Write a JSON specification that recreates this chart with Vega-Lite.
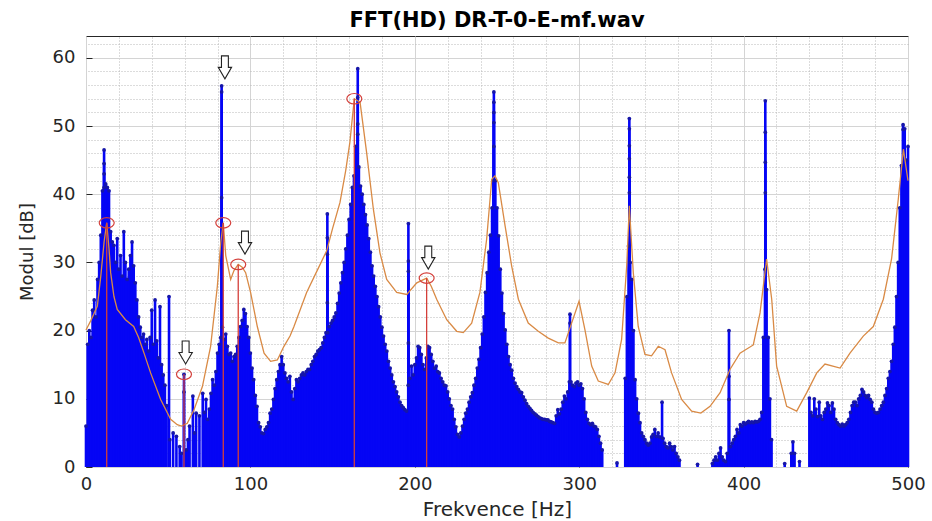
{
  "$schema": "https://vega.github.io/schema/vega-lite/v6.json",
  "width": 822,
  "height": 431,
  "autosize": {"type": "none"},
  "padding": {"left": 86, "top": 36, "right": 24, "bottom": 54},
  "background": "white",
  "title": {"text": "FFT(HD) DR-T-0-E-mf.wav", "font": "DejaVu Sans", "fontSize": 21, "fontWeight": "bold", "color": "#000000", "offset": 5},
  "config": {"view": {"stroke": "#262626", "strokeWidth": 1}},
  "datasets": {
    "spec": [
      {"f":0,"m":6},{"f":1,"m":18},{"f":2,"m":20},{"f":3,"m":19},{"f":4,"m":23},{"f":5,"m":24.5},{"f":6,"m":22},{"f":7,"m":27.5},{"f":8,"m":30},{"f":9,"m":34},
      {"f":10,"m":40.5},{"f":11,"m":46.5},{"f":11,"m":44.5},{"f":11,"m":43},{"f":11,"m":41},{"f":12,"m":41.5},{"f":13,"m":41},{"f":14,"m":40.5},{"f":15,"m":34.5},{"f":16,"m":33},{"f":17,"m":32.5},{"f":18,"m":30},{"f":19,"m":33.5},
      {"f":20,"m":29},{"f":21,"m":31},{"f":22,"m":28},{"f":23,"m":34.5},{"f":24,"m":30},{"f":25,"m":27.5},{"f":26,"m":29},{"f":27,"m":31},{"f":28,"m":33},{"f":29,"m":29.5},
      {"f":30,"m":27},{"f":31,"m":24.5},{"f":32,"m":22},{"f":33,"m":20.5},{"f":34,"m":19},{"f":35,"m":19.5},{"f":36,"m":18},{"f":37,"m":18.7},{"f":38,"m":17},{"f":39,"m":19},
      {"f":40,"m":23},{"f":41,"m":18},{"f":42,"m":24.5},{"f":43,"m":18.5},{"f":44,"m":16},{"f":45,"m":23.5},{"f":46,"m":15},{"f":47,"m":13.5},{"f":48,"m":12},{"f":49,"m":9},
      {"f":50.5,"m":25},{"f":51,"m":4},{"f":53,"m":5},{"f":55,"m":4.5},{"f":57,"m":3},{"f":58,"m":2},{"f":59.6,"m":13.6},{"f":59.6,"m":11},{"f":61,"m":2.5},{"f":62,"m":4},{"f":63,"m":6},
      {"f":65,"m":10.4},{"f":66,"m":5},{"f":67,"m":7.9},{"f":69,"m":7.5},{"f":71,"m":10.8},{"f":72,"m":8},{"f":73,"m":9.9},{"f":74,"m":7},{"f":75,"m":8.5},{"f":76,"m":10.8},{"f":77,"m":12.8},{"f":78,"m":12},{"f":79,"m":14},
      {"f":80,"m":16.7},{"f":81,"m":18},{"f":82,"m":19},{"f":82.5,"m":55.9},{"f":82.5,"m":55},{"f":82.5,"m":39.5},{"f":83,"m":20.5},{"f":84,"m":18.7},{"f":85,"m":19.5},{"f":86,"m":17.7},{"f":87,"m":16.5},{"f":88,"m":16.7},{"f":89,"m":15.5},
      {"f":90,"m":16.2},{"f":91,"m":16.5},{"f":92,"m":17.7},{"f":93,"m":19},{"f":94,"m":20.6},{"f":95,"m":21.5},{"f":96,"m":23.1},{"f":97,"m":22.5},{"f":98,"m":20.6},{"f":99,"m":19},
      {"f":100,"m":16.7},{"f":101,"m":14.5},{"f":102,"m":12.8},{"f":103,"m":10.5},{"f":104,"m":8.9},{"f":105,"m":6.5},{"f":106,"m":5.9},{"f":107,"m":5},{"f":108,"m":4.9},{"f":109,"m":5.5},
      {"f":110,"m":5.9},{"f":111,"m":6.5},{"f":112,"m":7.9},{"f":113,"m":8.5},{"f":114,"m":9.9},{"f":115,"m":11.5},{"f":116,"m":12.8},{"f":117,"m":14},{"f":118,"m":15},{"f":119,"m":16.2},
      {"f":120,"m":15},{"f":121,"m":13.8},{"f":122,"m":13},{"f":123,"m":12.5},{"f":124,"m":13.3},{"f":125,"m":11},{"f":126,"m":9.9},{"f":127,"m":11.5},{"f":128,"m":12.8},{"f":129,"m":12.5},
      {"f":130,"m":13},{"f":131,"m":13.5},{"f":132,"m":13.8},{"f":133,"m":13.5},{"f":134,"m":14},{"f":135,"m":14.3},{"f":136,"m":14.3},{"f":137,"m":15},{"f":138,"m":15.5},{"f":139,"m":16.2},
      {"f":140,"m":16.5},{"f":141,"m":17},{"f":142,"m":17.2},{"f":143,"m":17.5},{"f":144,"m":18.2},{"f":145,"m":19},{"f":146,"m":19.7},{"f":146.8,"m":37.1},{"f":146.8,"m":33.6},{"f":146.8,"m":31.2},{"f":146.8,"m":24.1},{"f":147,"m":19.7},{"f":148,"m":20.6},{"f":149,"m":21.1},
      {"f":150,"m":21.5},{"f":151,"m":22},{"f":152,"m":22.6},{"f":153,"m":24},{"f":154,"m":25.5},{"f":155,"m":27},{"f":156,"m":28.5},{"f":157,"m":30},{"f":158,"m":32},{"f":159,"m":34},
      {"f":160,"m":36.3},{"f":161,"m":38.5},{"f":162,"m":41},{"f":163,"m":42.7},{"f":164,"m":47},{"f":165.3,"m":58.4},{"f":165.3,"m":54.2},{"f":165.3,"m":50.3},{"f":165.3,"m":48.8},{"f":166,"m":44},{"f":167,"m":41.2},{"f":168,"m":40},{"f":169,"m":38.5},
      {"f":170,"m":37},{"f":171,"m":35.5},{"f":172,"m":33.5},{"f":173,"m":31.5},{"f":174,"m":29.5},{"f":175,"m":28},{"f":176,"m":26.5},{"f":177,"m":25},{"f":178,"m":23.5},{"f":179,"m":22},
      {"f":180,"m":20.5},{"f":181,"m":19.2},{"f":182,"m":18},{"f":183,"m":17},{"f":184,"m":15.5},{"f":185,"m":14.5},{"f":186,"m":13.5},{"f":187,"m":12.5},{"f":188,"m":11.8},{"f":189,"m":11},
      {"f":190,"m":10.3},{"f":191,"m":9.5},{"f":192,"m":9},{"f":193,"m":8.7},{"f":194,"m":8.4},{"f":195,"m":8.2},{"f":196,"m":12},{"f":196.1,"m":35.7},{"f":196.1,"m":30.2},{"f":196.1,"m":28.7},{"f":196.1,"m":18.2},{"f":197,"m":13},{"f":198,"m":14.8},{"f":199,"m":13.5},
      {"f":200,"m":15},{"f":201,"m":16},{"f":202,"m":17.7},{"f":203,"m":17.5},{"f":204,"m":16.5},{"f":205,"m":15},{"f":206,"m":14.3},{"f":207,"m":16},{"f":208,"m":17.7},{"f":209,"m":17.5},
      {"f":210,"m":16.5},{"f":211,"m":15.5},{"f":212,"m":14.5},{"f":213,"m":14.8},{"f":214,"m":14},{"f":215,"m":13.8},{"f":216,"m":13},{"f":217,"m":12.5},{"f":218,"m":12},{"f":219,"m":11.9},
      {"f":220,"m":11},{"f":221,"m":10},{"f":222,"m":9},{"f":223,"m":8.5},{"f":224,"m":7},{"f":225,"m":5.9},{"f":226,"m":4.8},{"f":227,"m":4.4},{"f":228,"m":5},{"f":229,"m":6},
      {"f":230,"m":7},{"f":231,"m":7.9},{"f":232,"m":8.5},{"f":233,"m":9.5},{"f":234,"m":10.3},{"f":235,"m":10.9},{"f":236,"m":12},{"f":237,"m":13},{"f":238,"m":14.5},{"f":239,"m":15.8},
      {"f":240,"m":17.5},{"f":241,"m":19.5},{"f":242,"m":22},{"f":243,"m":25.6},{"f":244,"m":28.5},{"f":245,"m":31.5},{"f":246,"m":34},{"f":247,"m":38},{"f":248,"m":42},{"f":248.1,"m":55},{"f":248.1,"m":53.5},{"f":248.1,"m":52},{"f":248.1,"m":50.5},{"f":248.1,"m":47},{"f":249,"m":42},
      {"f":250,"m":38},{"f":251,"m":33.9},{"f":252,"m":29},{"f":253,"m":25.5},{"f":254,"m":22.5},{"f":255,"m":20.1},{"f":256,"m":18},{"f":257,"m":16.2},{"f":258,"m":15},{"f":259,"m":14.2},
      {"f":260,"m":13},{"f":261,"m":12.3},{"f":262,"m":11.8},{"f":263,"m":11.4},{"f":264,"m":11},{"f":265,"m":10.9},{"f":266,"m":10.3},{"f":267,"m":9.8},{"f":268,"m":9.3},{"f":269,"m":8.9},
      {"f":270,"m":8.6},{"f":271,"m":8.3},{"f":272,"m":8},{"f":273,"m":7.8},{"f":274,"m":7.6},{"f":275,"m":7.4},{"f":276,"m":7.2},{"f":277,"m":7.1},{"f":278,"m":7},{"f":279,"m":7},
      {"f":280,"m":6.9},{"f":281,"m":6.9},{"f":282,"m":6.7},{"f":283,"m":6.6},{"f":284,"m":6.5},{"f":285,"m":6.4},{"f":286,"m":7.5},{"f":287,"m":8.4},{"f":288,"m":7.8},{"f":289,"m":8.5},
      {"f":290,"m":9.5},{"f":291,"m":10.4},{"f":292,"m":10},{"f":293,"m":11},{"f":294,"m":12.5},{"f":294.4,"m":22.4},{"f":294.4,"m":21.1},{"f":295,"m":12.5},{"f":296,"m":12},{"f":297,"m":11.8},{"f":298,"m":12.3},{"f":299,"m":12.5},
      {"f":300,"m":12},{"f":301,"m":12.2},{"f":302,"m":11.5},{"f":303,"m":10},{"f":304,"m":8},{"f":305,"m":7},{"f":306,"m":6.4},{"f":307,"m":6.2},{"f":308,"m":6.4},{"f":309,"m":6},
      {"f":310,"m":5.9},{"f":311,"m":5.5},{"f":312,"m":4.5},{"f":313,"m":3.5},{"f":314,"m":2.5},{"f":323,"m":0.6},
      {"f":328,"m":13},{"f":329,"m":25},{"f":330,"m":32.4},{"f":330.5,"m":51.1},{"f":330.5,"m":49.6},{"f":330.5,"m":47.1},{"f":330.5,"m":45.2},{"f":330.5,"m":42.5},{"f":330.5,"m":40.2},{"f":331,"m":30},{"f":332,"m":27.5},{"f":333,"m":20},{"f":334,"m":12.8},{"f":335,"m":10},{"f":336,"m":7.9},{"f":337,"m":6.5},{"f":338,"m":5},{"f":339,"m":4.5},
      {"f":340,"m":4},{"f":341,"m":3.5},{"f":342,"m":3.2},{"f":343,"m":3.5},{"f":344,"m":4.4},{"f":345,"m":4.8},{"f":346,"m":5.5},{"f":347,"m":4.5},{"f":348,"m":5},{"f":349,"m":4.4},
      {"f":350.4,"m":9.5},{"f":351,"m":4.2},{"f":352,"m":3.5},{"f":353,"m":3},{"f":354,"m":2.8},{"f":355,"m":3.5},{"f":356,"m":3},{"f":357,"m":2.5},{"f":358,"m":3},{"f":359,"m":2},
      {"f":360,"m":1.5},{"f":361,"m":1},{"f":372,"m":0.4},
      {"f":381,"m":0.5},{"f":382,"m":1},{"f":383,"m":1.5},{"f":384,"m":1},{"f":385,"m":2},{"f":386,"m":2.8},{"f":387,"m":1.5},{"f":388,"m":1},{"f":389,"m":0.8},
      {"f":390,"m":2},{"f":391.1,"m":20},{"f":391.1,"m":13.3},{"f":391.1,"m":9.9},{"f":392,"m":3},{"f":393,"m":3.5},{"f":394,"m":4},{"f":395,"m":4.5},{"f":396,"m":5.5},{"f":397,"m":5},{"f":398,"m":6.2},{"f":399,"m":6},
      {"f":400,"m":6.5},{"f":401,"m":6.3},{"f":402,"m":6.5},{"f":403,"m":6.7},{"f":404,"m":6.5},{"f":405,"m":6.6},{"f":406,"m":6.5},{"f":407,"m":6.7},{"f":408,"m":6.6},{"f":409,"m":6.7},
      {"f":410,"m":7},{"f":411,"m":8},{"f":412,"m":19},{"f":413,"m":29},{"f":413.2,"m":53.7},{"f":413.2,"m":49.1},{"f":413.2,"m":44.7},{"f":413.2,"m":40.2},{"f":414,"m":26},{"f":415,"m":19},{"f":416,"m":10},{"f":417,"m":4},
      {"f":425,"m":0.5},{"f":429,"m":2},{"f":430,"m":3.7},{"f":431,"m":2},{"f":434,"m":0.8},
      {"f":440,"m":10.1},{"f":441,"m":8},{"f":442,"m":7.5},{"f":443,"m":10},{"f":444,"m":8.5},{"f":445,"m":7.4},{"f":446,"m":9.5},{"f":447,"m":7.5},{"f":448,"m":7},{"f":449,"m":8},
      {"f":450,"m":8.5},{"f":451,"m":9.4},{"f":452,"m":9},{"f":453,"m":8},{"f":454,"m":9.4},{"f":455,"m":8.5},{"f":456,"m":7},{"f":457,"m":6.5},{"f":458,"m":6.2},{"f":459,"m":6},
      {"f":460,"m":6.3},{"f":461,"m":6},{"f":462,"m":6.2},{"f":463,"m":6.5},{"f":464,"m":7},{"f":465,"m":8},{"f":466,"m":9},{"f":467,"m":9.5},{"f":468,"m":9.5},{"f":469,"m":9},
      {"f":470,"m":10},{"f":471,"m":10.5},{"f":472,"m":11.4},{"f":473,"m":11},{"f":474,"m":10.5},{"f":475,"m":10.2},{"f":476,"m":10.5},{"f":477,"m":9.9},{"f":478,"m":9.5},{"f":479,"m":8.5},
      {"f":480,"m":8},{"f":481,"m":7.9},{"f":482,"m":8},{"f":483,"m":8.5},{"f":484,"m":9},{"f":485,"m":9.5},{"f":486,"m":10.5},{"f":487,"m":11.5},{"f":488,"m":13},{"f":489,"m":14},
      {"f":490,"m":15.5},{"f":491,"m":18},{"f":492,"m":20.5},{"f":493,"m":25},{"f":494,"m":30},{"f":495,"m":38},{"f":496,"m":44.2},{"f":497,"m":50.2},{"f":497,"m":49.5},{"f":498,"m":49.6},{"f":499,"m":45},{"f":500,"m":47}
    ],
    "env": [
      {"f":0,"m":20.1},{"f":3,"m":21.5},{"f":6.9,"m":23.6},{"f":9,"m":28},{"f":11,"m":33},{"f":12.6,"m":35.8},{"f":14,"m":32},{"f":15,"m":28.5},{"f":17,"m":25},{"f":19,"m":23.1},
      {"f":24,"m":21.6},{"f":29,"m":20.6},{"f":32,"m":19},{"f":35.3,"m":16.7},{"f":39.3,"m":13.8},{"f":45.4,"m":9.9},{"f":51.5,"m":7},{"f":55.5,"m":6.2},{"f":58,"m":6},{"f":61.6,"m":6.4},
      {"f":65.7,"m":8.4},{"f":70.8,"m":11.8},{"f":75.8,"m":17.7},{"f":79.9,"m":26.5},{"f":82,"m":33},{"f":83.5,"m":35.8},{"f":85,"m":31},{"f":88,"m":27.5},{"f":90,"m":28.8},{"f":92.6,"m":29.7},
      {"f":95,"m":29.3},{"f":97.1,"m":28.5},{"f":100.2,"m":25.5},{"f":104.2,"m":20.6},{"f":108.3,"m":16.7},{"f":112.3,"m":15.5},{"f":116.4,"m":15.7},{"f":120.4,"m":17.7},{"f":124.1,"m":19.2},{"f":126.5,"m":20.6},
      {"f":134.2,"m":25.6},{"f":140,"m":28.5},{"f":146.4,"m":31.7},{"f":150,"m":35},{"f":154.5,"m":38.8},{"f":158,"m":43.5},{"f":160.5,"m":47.6},{"f":163.2,"m":54},{"f":166.7,"m":53.5},{"f":170.7,"m":46.1},
      {"f":174.8,"m":37.8},{"f":178.8,"m":31.4},{"f":182.9,"m":27.5},{"f":189,"m":25.6},{"f":195.1,"m":25.3},{"f":201.2,"m":27},{"f":207.2,"m":27.7},{"f":210,"m":26.5},{"f":213.3,"m":24.6},{"f":219.4,"m":21.6},
      {"f":225.5,"m":19.9},{"f":229.5,"m":19.7},{"f":234.6,"m":21.1},{"f":239.6,"m":25.6},{"f":243.7,"m":33.4},{"f":246.8,"m":42.2},{"f":248.8,"m":42.7},{"f":250.8,"m":41.7},{"f":254.9,"m":35.4},{"f":258.9,"m":29.5},
      {"f":263,"m":24.6},{"f":269,"m":21.1},{"f":275.1,"m":19.9},{"f":281.2,"m":18.9},{"f":287.3,"m":18.2},{"f":291.3,"m":18.2},{"f":295.4,"m":21.1},{"f":299.9,"m":24.3},{"f":303.5,"m":20.1},{"f":307.6,"m":14.8},
      {"f":311.6,"m":12.6},{"f":317.7,"m":12.1},{"f":321.8,"m":13.8},{"f":325.8,"m":18.7},{"f":328.9,"m":29.5},{"f":330.5,"m":38.3},{"f":332.9,"m":28.5},{"f":335.9,"m":20.6},{"f":340,"m":16.5},{"f":344,"m":16.3},
      {"f":348.1,"m":17.7},{"f":352.2,"m":17.2},{"f":356.2,"m":13.8},{"f":362.3,"m":9.9},{"f":368.4,"m":8.2},{"f":374,"m":7.9},{"f":379.6,"m":8.9},{"f":385.7,"m":10.9},{"f":391.7,"m":14.3},{"f":397.8,"m":16.7},
      {"f":405.9,"m":17.9},{"f":410,"m":22.6},{"f":414,"m":30.5},{"f":417.1,"m":24.6},{"f":420.1,"m":14.8},{"f":426.2,"m":8.9},{"f":432.3,"m":8.2},{"f":438.4,"m":10.9},{"f":444.5,"m":13.8},{"f":449.5,"m":15.1},
      {"f":458.7,"m":14.5},{"f":464.7,"m":16.7},{"f":472.8,"m":19.2},{"f":478.9,"m":20.6},{"f":485,"m":24.6},{"f":490,"m":30.5},{"f":494.1,"m":39.3},{"f":497.2,"m":46.6},{"f":500,"m":42}
    ],
    "peaks": [
      {"f":12.6,"m":35.8},{"f":59.6,"m":13.6},{"f":83.5,"m":35.8},{"f":92.6,"m":29.7},{"f":163.2,"m":54},{"f":207.2,"m":27.7}
    ],
    "arrows": [
      {"f":84.5,"m":58.6},{"f":96.7,"m":32.9},{"f":60.6,"m":16.8},{"f":208.2,"m":30.7}
    ]
  },
  "layer": [
    {
      "data": {"name": "spec"},
      "mark": {"type": "rule", "color": "#0505f5", "strokeWidth": 2.6},
      "encoding": {
        "x": {"field": "f", "type": "quantitative", "scale": {"domain": [0, 500], "nice": false, "zero": false},
              "axis": {"orient": "top", "values": [20,40,60,80,120,140,160,180,220,240,260,280,320,340,360,380,420,440,460,480], "grid": true, "gridColor": "#b8b8b8", "gridDash": [1,2], "gridWidth": 1, "labels": false, "ticks": false, "domain": false, "title": null}},
        "y": {"field": "m", "type": "quantitative", "scale": {"domain": [0, 63.2], "nice": false, "zero": false},
              "axis": {"orient": "right", "values": [2,4,6,8,12,14,16,18,22,24,26,28,32,34,36,38,42,44,46,48,52,54,56,58,62], "grid": true, "gridColor": "#b8b8b8", "gridDash": [1,2], "gridWidth": 1, "labels": false, "ticks": false, "domain": false, "title": null}},
        "y2": {"datum": 0}
      }
    },
    {
      "data": {"name": "spec"},
      "mark": {"type": "point", "filled": true, "color": "#1616a8", "size": 14, "opacity": 1},
      "encoding": {
        "x": {"field": "f", "type": "quantitative", "axis": null},
        "y": {"field": "m", "type": "quantitative", "axis": null}
      }
    },
    {
      "data": {"name": "env"},
      "mark": {"type": "line", "color": "#d98a45", "strokeWidth": 1.3},
      "encoding": {
        "x": {"field": "f", "type": "quantitative",
              "axis": {"orient": "bottom", "values": [0,100,200,300,400,500], "grid": true, "gridColor": "#d4d4d4", "gridWidth": 1, "domain": false, "ticks": true, "tickSize": -6, "tickColor": "#262626", "labelFlush": false, "labelFont": "DejaVu Sans", "labelFontSize": 18, "labelColor": "#262626", "labelPadding": 14, "title": "Frekvence [Hz]", "titleFont": "DejaVu Sans", "titleFontSize": 20, "titleFontWeight": "normal", "titleColor": "#262626", "titlePadding": 6}},
        "y": {"field": "m", "type": "quantitative",
              "axis": {"orient": "left", "values": [0,10,20,30,40,50,60], "grid": true, "gridColor": "#d4d4d4", "gridWidth": 1, "domain": false, "ticks": true, "tickSize": -6, "tickColor": "#262626", "labelFlush": false, "labelFont": "DejaVu Sans", "labelFontSize": 18, "labelColor": "#262626", "labelPadding": 17, "title": "Modul [dB]", "titleFont": "DejaVu Sans", "titleFontSize": 18, "titleFontWeight": "normal", "titleColor": "#262626", "titlePadding": 16}}
      }
    },
    {
      "data": {"name": "peaks"},
      "mark": {"type": "rule", "color": "#d43f3a", "strokeWidth": 1.3},
      "encoding": {
        "x": {"field": "f", "type": "quantitative", "axis": null},
        "y": {"field": "m", "type": "quantitative", "axis": null},
        "y2": {"datum": 0}
      }
    },
    {
      "data": {"name": "peaks"},
      "mark": {"type": "point", "shape": "M -1 0 A 1 0.7 0 1 0 1 0 A 1 0.7 0 1 0 -1 0 Z", "size": 225, "filled": false, "stroke": "#d43f3a", "strokeWidth": 1.2, "opacity": 1},
      "encoding": {
        "x": {"field": "f", "type": "quantitative", "axis": null},
        "y": {"field": "m", "type": "quantitative", "axis": null}
      }
    },
    {
      "data": {"name": "arrows"},
      "mark": {"type": "point", "shape": "M -0.3 -1 L 0.3 -1 L 0.3 0 L 0.58 0 L 0 1 L -0.58 0 L -0.3 0 Z", "size": 529, "filled": true, "fill": "#ffffff", "stroke": "#222222", "strokeWidth": 1.1, "opacity": 1},
      "encoding": {
        "x": {"field": "f", "type": "quantitative", "axis": null},
        "y": {"field": "m", "type": "quantitative", "axis": null}
      }
    }
  ],
  "resolve": {"axis": {"x": "independent", "y": "independent"}}
}
